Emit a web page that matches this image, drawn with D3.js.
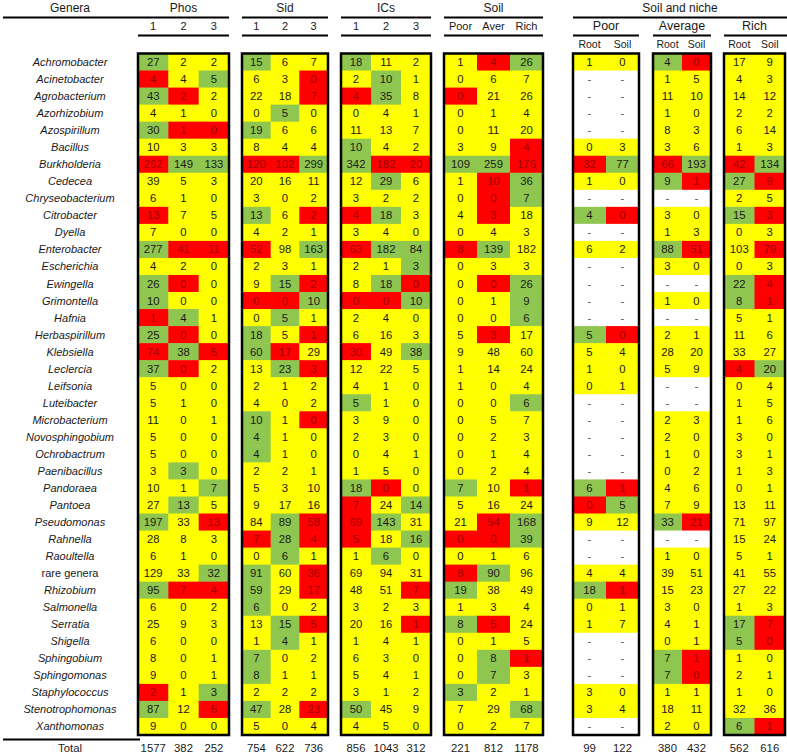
<!DOCTYPE html>
<html>
<head>
<meta charset="utf-8">
<script src="https://cdn.jsdelivr.net/npm/d3@7/dist/d3.min.js"></script>
<style>
  html, body { margin: 0; padding: 0; background: #fff; }
  svg { display: block; }
  text { font-family: "Liberation Sans", Arial, sans-serif; fill: #1a1a1a; }
</style>
</head>
<body>
<svg id="chart" width="787" height="755"></svg>
<script>
// ---------------- DATA ----------------
const genera = ["Achromobacter","Acinetobacter","Agrobacterium","Azorhizobium","Azospirillum","Bacillus",
  "Burkholderia","Cedecea","Chryseobacterium","Citrobacter","Dyella","Enterobacter","Escherichia",
  "Ewingella","Grimontella","Hafnia","Herbaspirillum","Klebsiella","Leclercia","Leifsonia","Luteibacter",
  "Microbacterium","Novosphingobium","Ochrobactrum","Paenibacillus","Pandoraea","Pantoea","Pseudomonas",
  "Rahnella","Raoultella","rare genera","Rhizobium","Salmonella","Serratia","Shigella","Sphingobium",
  "Sphingomonas","Staphylococcus","Stenotrophomonas","Xanthomonas"];

const phosCols = ["1","2","3"];
const sidCols = ["1","2","3"];
const icsCols = ["1","2","3"];
const soilCols = ["Poor","Aver","Rich"];
const nicheGroups = ["Poor","Average","Rich"];
const nicheCols = ["Root","Soil"];

// sig codes: y = yellow (n.s.), g = green (over), r = red (under), w = no data
const phosVals = [[27,2,2],[4,4,5],[43,2,2],[4,1,0],[30,1,0],[10,3,3],[262,149,133],[39,5,3],[6,1,0],[13,7,5],
  [7,0,0],[277,41,11],[4,2,0],[26,0,0],[10,0,0],[1,4,1],[25,0,0],[74,38,5],[37,0,2],[5,0,0],
  [5,1,0],[11,0,1],[5,0,0],[5,0,0],[3,3,0],[10,1,7],[27,13,5],[197,33,13],[28,8,3],[6,1,0],
  [129,33,32],[95,7,4],[6,0,2],[25,9,3],[6,0,0],[8,0,1],[9,0,1],[2,1,3],[87,12,5],[9,0,0]];
const phosSig = ["gyy","ryg","gry","yyy","grr","yyy","rgg","yyy","yyy","ryy",
  "yyy","grr","yyy","gry","gyy","rgy","gry","rgr","gry","yyy",
  "yyy","yyy","yyy","yyy","ygy","yyg","ygy","gyr","yyy","yyy",
  "yyg","grr","yyy","yyy","yyy","yyy","yyy","ryg","gyr","yyy"];
const phosTotal = [1577,382,252];

const sidVals = [[15,6,7],[6,3,0],[22,18,7],[0,5,0],[19,6,6],[8,4,4],[120,102,299],[20,16,11],[3,0,2],[13,6,2],
  [4,2,1],[52,98,163],[2,3,1],[9,15,2],[0,0,10],[0,5,1],[18,5,1],[60,17,29],[13,23,3],[2,1,2],
  [4,0,2],[10,1,0],[4,1,0],[4,1,0],[2,2,1],[5,3,10],[9,17,16],[84,89,58],[7,28,4],[0,6,1],
  [91,60,36],[59,29,17],[6,0,2],[13,15,5],[1,4,1],[7,0,2],[8,1,1],[2,2,2],[47,28,23],[5,0,4]];
const sidSig = ["gyy","yyr","yyr","ygy","gyy","yyy","rrg","yyy","yyy","gyr",
  "yyy","ryg","yyy","ygr","rrg","ygy","gyr","gry","ygr","yyy",
  "yyy","gyr","gyy","gyy","yyy","yyy","yyy","ygr","rgr","ygy",
  "gyr","gyr","gyy","ygr","ygy","gyy","gyy","yyy","gyr","yyy"];
const sidTotal = [754,622,736];

const icsVals = [[18,11,2],[2,10,1],[4,35,8],[0,4,1],[11,13,7],[10,4,2],[342,182,20],[12,29,6],[3,2,2],[4,18,3],
  [3,4,0],[63,182,84],[2,1,3],[8,18,0],[0,0,10],[2,4,0],[6,16,3],[30,49,38],[12,22,5],[4,1,0],
  [5,1,0],[3,9,0],[2,3,0],[0,4,1],[1,5,0],[18,0,0],[7,24,14],[69,143,31],[5,18,16],[1,6,0],
  [69,94,31],[48,51,7],[3,2,3],[20,16,1],[1,4,1],[6,3,0],[5,4,1],[3,1,2],[50,45,9],[4,5,0]];
const icsSig = ["gyy","ygy","rgy","yyy","yyy","gyy","grr","ygy","yyy","rgy",
  "yyy","rgg","yyg","ygr","rrg","yyy","yyy","ryg","yyy","yyy",
  "gyy","yyy","yyy","yyy","yyy","gry","ryg","rgy","ryg","ygy",
  "yyy","yyr","yyy","yyr","yyy","yyy","yyy","yyy","gyy","yyy"];
const icsTotal = [856,1043,312];

const soilVals = [[1,4,26],[0,6,7],[0,21,26],[0,1,4],[0,11,20],[3,9,4],[109,259,176],[1,10,36],[0,0,7],[4,3,18],
  [0,4,3],[8,139,182],[0,3,3],[0,0,26],[0,1,9],[0,0,6],[5,3,17],[9,48,60],[1,14,24],[1,0,4],
  [0,0,6],[0,5,7],[0,2,3],[0,1,4],[0,2,4],[7,10,1],[5,16,24],[21,54,168],[0,0,39],[0,1,6],
  [8,90,96],[19,38,49],[1,3,4],[8,5,24],[0,1,5],[0,8,1],[0,7,3],[3,2,1],[7,29,68],[0,2,7]];
const soilSig = ["yrg","yyy","ryy","yyy","yyy","yyr","ggr","yrg","yrg","yry",
  "yyy","rgy","yyy","yrg","yyg","yyg","yry","yyy","yyy","yyy",
  "yyg","yyy","yyy","yyy","yyy","gyr","yyy","yrg","rrg","yyy",
  "rgy","gyy","yyy","gry","yyy","ygr","ygy","gyy","yyg","yyy"];
const soilTotal = [221,812,1178];

const poorVals = [[1,0],null,null,null,null,[0,3],[32,77],[1,0],null,[4,0],
  null,[6,2],null,null,null,null,[5,0],[5,4],[1,0],[0,1],
  null,null,null,null,null,[6,1],[0,5],[9,12],null,null,
  [4,4],[18,1],[0,1],[1,7],null,null,null,[3,0],[3,4],null];
const poorSig = ["yy","ww","ww","ww","ww","yy","rg","yy","ww","gr",
  "ww","yy","ww","ww","ww","ww","gr","yy","yy","yy",
  "ww","ww","ww","ww","ww","gr","rg","yy","ww","ww",
  "yy","gr","yy","yy","ww","ww","ww","yy","yy","ww"];
const poorTotal = [99,122];

const avgVals = [[4,0],[1,5],[11,10],[1,0],[8,3],[3,6],[66,193],[9,1],null,[3,0],
  [1,3],[88,51],[3,0],null,[1,0],null,[2,1],[28,20],[5,9],null,
  null,[2,3],[2,0],[1,0],[0,2],[4,6],[7,9],[33,21],null,[1,0],
  [39,51],[15,23],[3,0],[4,1],[0,1],[7,1],[7,0],[1,1],[18,11],[2,0]];
const avgSig = ["gr","yy","yy","yy","yy","yy","rg","gr","ww","yy",
  "yy","gr","yy","ww","yy","ww","yy","yy","yy","ww",
  "ww","yy","yy","yy","yy","yy","yy","gr","ww","yy",
  "yy","yy","yy","yy","yy","gr","gr","yy","yy","yy"];
const avgTotal = [380,432];

const richVals = [[17,9],[4,3],[14,12],[2,2],[6,14],[1,3],[42,134],[27,9],[2,5],[15,3],
  [0,3],[103,79],[0,3],[22,4],[8,1],[5,1],[11,6],[33,27],[4,20],[0,4],
  [1,5],[1,6],[3,0],[3,1],[1,3],[0,1],[13,11],[71,97],[15,24],[5,1],
  [41,55],[27,22],[1,3],[17,7],[5,0],[1,0],[2,1],[1,0],[32,36],[6,1]];
const richSig = ["yy","yy","yy","yy","yy","yy","rg","gr","yy","gr",
  "yy","yr","yy","gr","gr","yy","yy","yy","rg","yy",
  "yy","yy","yy","yy","yy","yy","yy","yy","yy","yy",
  "yy","yy","yy","gr","gr","yy","yy","yy","yy","gr"];
const richTotal = [562,616];

// ---------------- DRAWING ----------------
const svg = d3.select("#chart");
const W = 787;
const fill = { y: "#ffff00", g: "#8fc650", r: "#ff0000", w: "#ffffff" };
const txtCol = { y: "#1a1a1a", g: "#1a1a1a", r: "#9c0000", w: "#555" };
const numSize = "11.3px";

const y = d3.scaleBand().domain(genera).range([53.5, 735]);

const blocks = [
  { vals: phosVals, sig: phosSig, cols: phosCols, tot: phosTotal, x0: 138, x1: 229 },
  { vals: sidVals, sig: sidSig, cols: sidCols, tot: sidTotal, x0: 242, x1: 328 },
  { vals: icsVals, sig: icsSig, cols: icsCols, tot: icsTotal, x0: 341, x1: 431 },
  { vals: soilVals, sig: soilSig, cols: soilCols, tot: soilTotal, x0: 444, x1: 543 },
  { vals: poorVals, sig: poorSig, cols: nicheCols, tot: poorTotal, x0: 573, x1: 639, niche: nicheGroups[0] },
  { vals: avgVals, sig: avgSig, cols: nicheCols, tot: avgTotal, x0: 653, x1: 711, niche: nicheGroups[1] },
  { vals: richVals, sig: richSig, cols: nicheCols, tot: richTotal, x0: 724, x1: 785, niche: nicheGroups[2] }
];

// Genus labels
svg.append("g").selectAll("text").data(genera).join("text")
  .attr("x", 70).attr("y", d => y(d) + y.bandwidth() / 2)
  .attr("text-anchor", "middle").attr("dominant-baseline", "central")
  .style("font-size", "11px")
  .style("font-style", d => d === "rare genera" ? "normal" : "italic")
  .text(d => d);

// Headers
const hdr = svg.append("g");
hdr.append("text").attr("x", 70).attr("y", 8).attr("text-anchor", "middle")
  .attr("dominant-baseline", "central").style("font-size", "12px").text("Genera");
const topTitles = [["Phos", 0], ["Sid", 1], ["ICs", 2], ["Soil", 3]];
topTitles.forEach(([t, i]) => {
  const b = blocks[i];
  hdr.append("text").attr("x", (b.x0 + b.x1) / 2).attr("y", 8).attr("text-anchor", "middle")
    .attr("dominant-baseline", "central").style("font-size", "12px").text(t);
});
hdr.append("text").attr("x", 680).attr("y", 8).attr("text-anchor", "middle")
  .attr("dominant-baseline", "central").style("font-size", "12px").text("Soil and niche");

function hline(x0, x1, yy, w) {
  hdr.append("line").attr("x1", x0).attr("x2", x1).attr("y1", yy).attr("y2", yy)
    .attr("stroke", "#000").attr("stroke-width", w || 2);
}
// first row of rules
hline(3, blocks[0].x1, 17.5);
hline(blocks[1].x0, blocks[1].x1, 17.5);
hline(blocks[2].x0, blocks[2].x1, 17.5);
hline(blocks[3].x0, blocks[3].x1, 17.5);
hline(blocks[4].x0, W, 17.5);
// second row of rules
blocks.forEach((b, i) => hline(b.x0, i === 6 ? W : b.x1, 35.5));
// bottom rule under genera
hline(3, 140, 739.5);

// Blocks
blocks.forEach(b => {
  const x = d3.scaleBand().domain(b.cols).range([b.x0, b.x1]);
  const g = svg.append("g");
  const cells = [];
  genera.forEach((gen, i) => {
    b.cols.forEach((c, j) => {
      const v = b.vals[i] ? b.vals[i][j] : null;
      cells.push({ gen, c, v, s: b.sig[i][j] });
    });
  });
  g.selectAll("rect.cell").data(cells).join("rect").attr("class", "cell")
    .attr("x", d => x(d.c)).attr("y", d => y(d.gen))
    .attr("width", x.bandwidth() + 0.5).attr("height", y.bandwidth() + 0.5)
    .attr("fill", d => fill[d.s]);
  g.selectAll("text.val").data(cells).join("text").attr("class", "val")
    .attr("x", d => x(d.c) + x.bandwidth() / 2).attr("y", d => y(d.gen) + y.bandwidth() / 2)
    .attr("text-anchor", "middle").attr("dominant-baseline", "central")
    .style("font-size", numSize)
    .style("fill", d => txtCol[d.s])
    .text(d => d.v === null ? "-" : d.v);
  g.append("rect").attr("x", b.x0).attr("y", 53.5)
    .attr("width", b.x1 - b.x0).attr("height", 735 - 53.5)
    .attr("fill", "none").attr("stroke", "#000").attr("stroke-width", 2.5);

  // column headers
  const subY = b.niche ? 43.5 : 26;
  g.selectAll("text.col").data(b.cols).join("text").attr("class", "col")
    .attr("x", d => x(d) + x.bandwidth() / 2).attr("y", subY)
    .attr("text-anchor", "middle").attr("dominant-baseline", "central")
    .style("font-size", b.niche ? "10.5px" : "11px").text(d => d);
  if (b.niche) {
    g.append("text").attr("x", (b.x0 + b.x1) / 2).attr("y", 26)
      .attr("text-anchor", "middle").attr("dominant-baseline", "central")
      .style("font-size", "12.5px").text(b.niche);
  }
  // totals
  g.selectAll("text.tot").data(b.tot).join("text").attr("class", "tot")
    .attr("x", (d, j) => x(b.cols[j]) + x.bandwidth() / 2).attr("y", 748)
    .attr("text-anchor", "middle").attr("dominant-baseline", "central")
    .style("font-size", numSize).text(d => d);
});

svg.append("text").attr("x", 70).attr("y", 748).attr("text-anchor", "middle")
  .attr("dominant-baseline", "central").style("font-size", numSize).text("Total");
</script>
</body>
</html>
